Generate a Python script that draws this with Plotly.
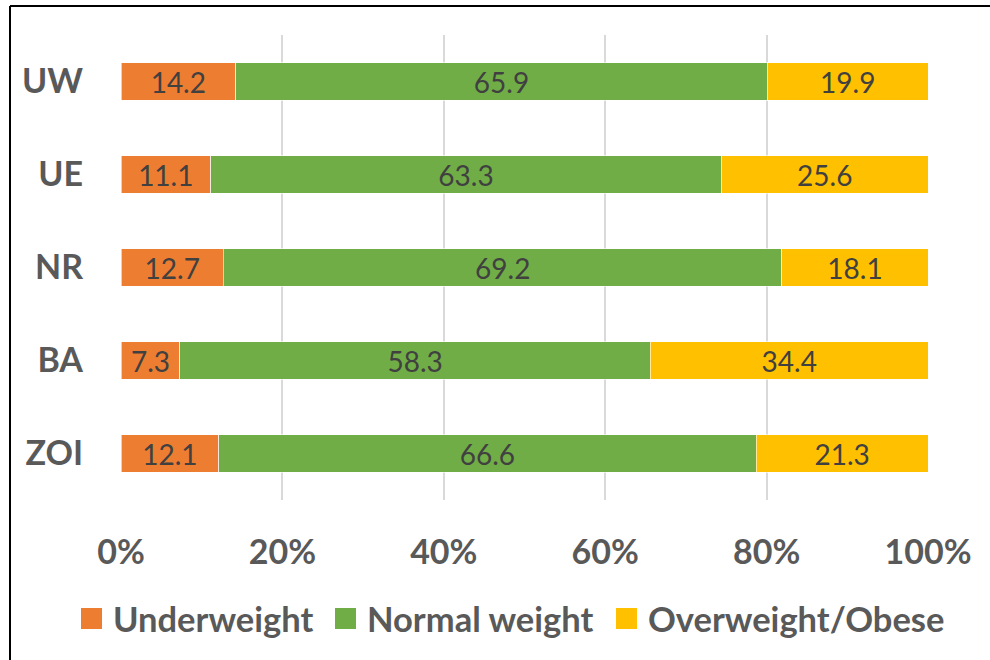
import plotly.graph_objects as go

# Weight status shares (%) by group, listed top to bottom
groups = ["UW", "UE", "NR", "BA", "ZOI"]
underweight = [14.2, 11.1, 12.7, 7.3, 12.1]
normal_weight = [65.9, 63.3, 69.2, 58.3, 66.6]
overweight_obese = [19.9, 25.6, 18.1, 34.4, 21.3]

series_names = ["Underweight", "Normal weight", "Overweight/Obese"]
series_values = [underweight, normal_weight, overweight_obese]
series_colors = ["#ED7D31", "#70AD47", "#FFC000"]
x_ticks = [0, 20, 40, 60, 80, 100]
x_tick_labels = ["0%", "20%", "40%", "60%", "80%", "100%"]

W, H = 990, 660
L, R, T, B = 121, 62, 35, 160
pw, ph = W - L - R, H - T - B


def px_x(p):
    return (p - L) / pw


def px_y(p):
    return (H - B - p) / ph


fig = go.Figure()
for name, vals, col in zip(series_names, series_values, series_colors):
    fig.add_trace(go.Bar(
        y=groups, x=vals, name=name, orientation="h",
        marker=dict(color=col, line=dict(color="rgba(255,255,255,0.6)", width=1)),
        texttemplate="%{x:.1f}", textposition="inside", insidetextanchor="middle",
        textangle=0, constraintext="none",
        textfont=dict(family="Lato", size=28, color="#404040"),
        showlegend=False,
    ))

# Legend: colour swatch and bold label for each series
shapes = []
annotations = []
legend_swatch_left = [81, 335, 616]
for name, col, sx in zip(series_names, series_colors, legend_swatch_left):
    shapes.append(dict(type="rect", xref="paper", yref="paper",
                       x0=px_x(sx), x1=px_x(sx + 21), y0=px_y(608), y1=px_y(629),
                       fillcolor=col, line=dict(width=0)))
    annotations.append(dict(xref="paper", yref="paper", x=px_x(sx + 30), y=px_y(618),
                            xanchor="left", yanchor="middle", showarrow=False, text=name,
                            font=dict(family="Lato", size=34.5, color="#595959", weight="bold")))

# Outer frame (top and left edges)
shapes.append(dict(type="line", xref="paper", yref="paper",
                   x0=px_x(10), x1=px_x(995), y0=px_y(6), y1=px_y(6),
                   line=dict(color="#000000", width=2)))
shapes.append(dict(type="line", xref="paper", yref="paper",
                   x0=px_x(10), x1=px_x(10), y0=px_y(6), y1=px_y(665),
                   line=dict(color="#000000", width=2)))

fig.update_layout(
    width=W, height=H,
    margin=dict(l=L, r=R, t=T, b=B, pad=0),
    barmode="stack", bargap=0.6,
    plot_bgcolor="white", paper_bgcolor="white",
    shapes=shapes, annotations=annotations,
    xaxis=dict(range=[0, 100], tickmode="array", tickvals=x_ticks, ticktext=x_tick_labels,
               showgrid=True, gridcolor="#D9D9D9", gridwidth=1.5,
               zeroline=False, showline=False, ticks="",
               ticklabelstandoff=29,
               tickfont=dict(family="Lato", size=34, color="#595959", weight="bold")),
    yaxis=dict(categoryorder="array", categoryarray=groups[::-1],
               showgrid=False, zeroline=False, showline=False, ticks="",
               ticklabelstandoff=37,
               tickfont=dict(family="Lato", size=34, color="#595959", weight="bold")),
)

fig.write_html("out.html")
